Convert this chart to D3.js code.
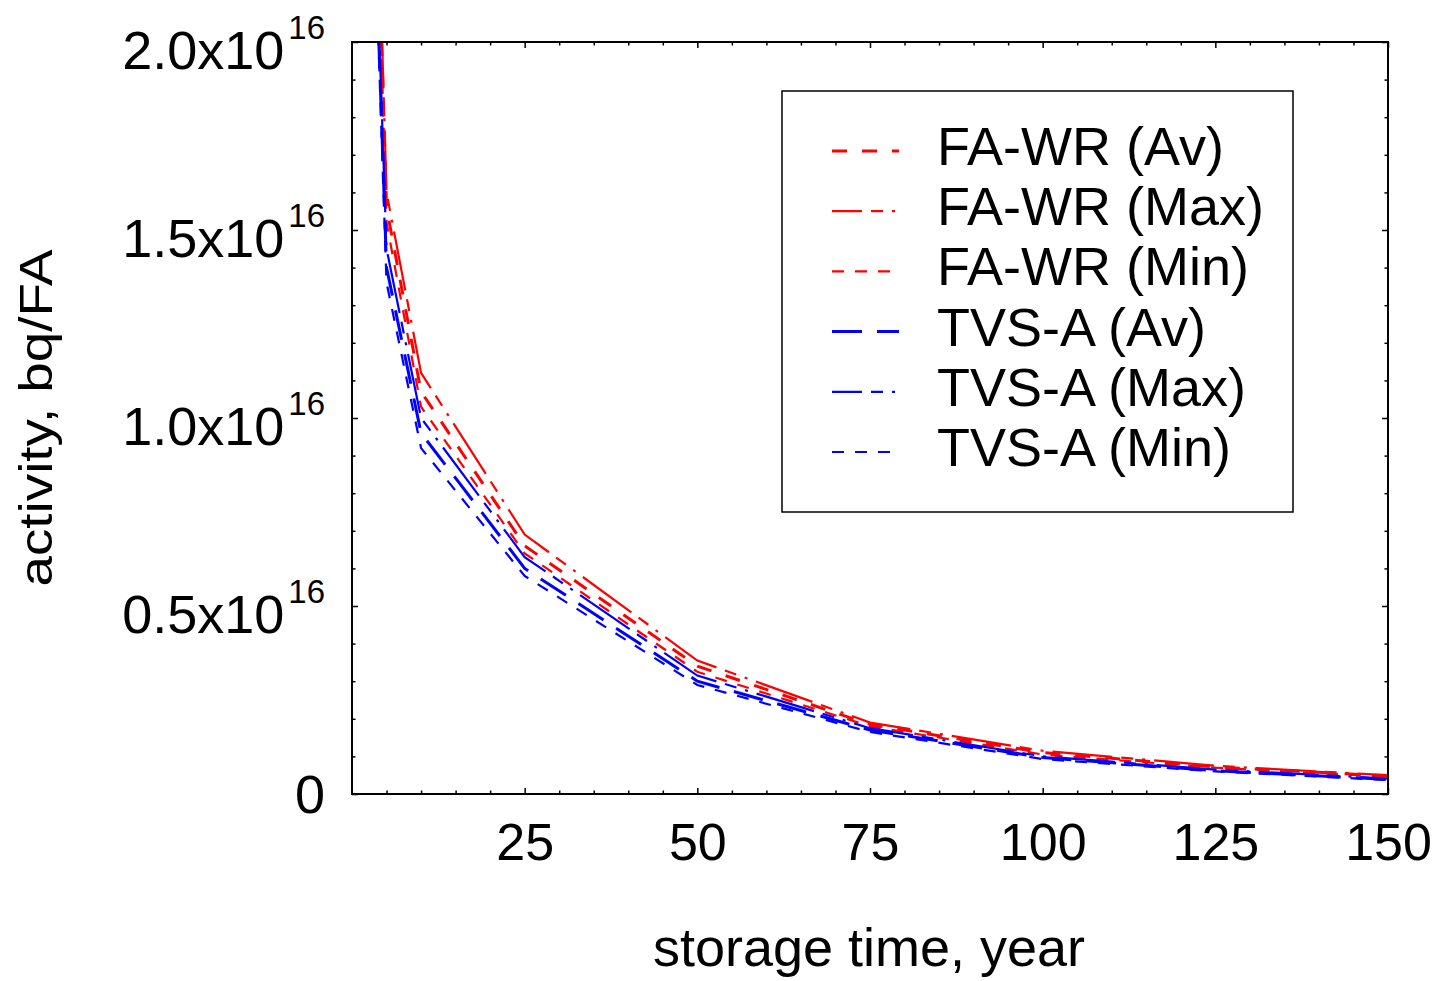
<!DOCTYPE html>
<html>
<head>
<meta charset="utf-8">
<script src="https://cdn.jsdelivr.net/npm/d3@7"></script>
<style>
  body { margin: 0; background: #fff; }
  text { font-family: "Liberation Sans", Arial, sans-serif; fill: #000; }
</style>
</head>
<body>
<div id="chart"></div>
<script>
// data (activity in Bq per fuel assembly)
const years = [3, 5, 10, 25, 50, 75, 100, 125, 150];
const fawrAv  = [2.80e16, 1.56e16, 1.07e16, 0.66e16, 0.340e16, 0.185e16, 0.110e16, 0.072e16, 0.048e16];
const fawrMax = [2.85e16, 1.60e16, 1.12e16, 0.69e16, 0.355e16, 0.190e16, 0.115e16, 0.075e16, 0.050e16];
const fawrMin = [2.75e16, 1.52e16, 1.03e16, 0.64e16, 0.325e16, 0.180e16, 0.105e16, 0.070e16, 0.046e16];
const tvsAv   = [2.48e16, 1.40e16, 0.96e16, 0.60e16, 0.300e16, 0.170e16, 0.097e16, 0.062e16, 0.039e16];
const tvsMax  = [2.52e16, 1.45e16, 1.00e16, 0.63e16, 0.315e16, 0.175e16, 0.100e16, 0.065e16, 0.041e16];
const tvsMin  = [2.45e16, 1.36e16, 0.92e16, 0.58e16, 0.290e16, 0.165e16, 0.093e16, 0.060e16, 0.037e16];
const seriesNames = ["FA-WR (Av)", "FA-WR (Max)", "FA-WR (Min)", "TVS-A (Av)", "TVS-A (Max)", "TVS-A (Min)"];

const xTicks = [25, 50, 75, 100, 125, 150];
const yTicks = [0, 0.5e16, 1.0e16, 1.5e16, 2.0e16];
const yTickLabels = ["0", "0.5x10", "1.0x10", "1.5x10", "2.0x10"];

const FRAME_WIDTH = 1445;
const FRAME_HEIGHT = 981;
const MARGINS = {left: 352, right: 57, top: 42, bottom: 187};
const VIS_WIDTH = FRAME_WIDTH - MARGINS.left - MARGINS.right;
const VIS_HEIGHT = FRAME_HEIGHT - MARGINS.top - MARGINS.bottom;

const styles = [
  {color: "#ff0000", width: 3, dash: "15,15", off: 0},
  {color: "#ff0000", width: 2.2, dash: "60,9,12,9,3,9", off: 30},
  {color: "#ff0000", width: 2.2, dash: "12,11", off: 0},
  {color: "#0000ff", width: 3, dash: "30,15", off: 0},
  {color: "#0000ff", width: 2.2, dash: "60,9,12,9,3,9", off: 30},
  {color: "#0000ff", width: 2.2, dash: "12,11", off: 0}
];
const allSeries = [fawrAv, fawrMax, fawrMin, tvsAv, tvsMax, tvsMin];

const svg = d3.select("#chart")
  .append("svg")
  .attr("width", FRAME_WIDTH)
  .attr("height", FRAME_HEIGHT);

const X_SCALE = d3.scaleLinear().domain([0, 150]).range([0, VIS_WIDTH]);
const Y_SCALE = d3.scaleLinear().domain([0, 2.0e16]).range([VIS_HEIGHT, 0]);

const plot = svg.append("g")
  .attr("transform", "translate(" + MARGINS.left + "," + MARGINS.top + ")");

plot.append("clipPath").attr("id", "clip")
  .append("rect").attr("width", VIS_WIDTH).attr("height", VIS_HEIGHT);

// lines
const line = d3.line()
  .x((d, i) => X_SCALE(years[i]))
  .y(d => Y_SCALE(d));

plot.append("g").attr("clip-path", "url(#clip)")
  .selectAll("path")
  .data(allSeries)
  .enter()
  .append("path")
    .attr("d", d => line(d))
    .attr("fill", "none")
    .attr("stroke", (d, i) => styles[i].color)
    .attr("stroke-width", (d, i) => styles[i].width)
    .attr("stroke-dasharray", (d, i) => styles[i].dash);

// axes: ticks point inward on all four sides
const minorX = d3.range(5, 150, 5).filter(v => v % 25 !== 0);
const minorY = d3.range(1, 20).filter(v => v % 5 !== 0).map(v => v * 0.1e16);

function styleAxis(g) {
  g.select(".domain").remove();
  g.selectAll(".tick line").attr("stroke", "#000").attr("stroke-width", 1.5);
}

plot.append("g")
  .attr("transform", "translate(0," + VIS_HEIGHT + ")")
  .call(d3.axisBottom(X_SCALE).tickValues(xTicks).tickSize(-6).tickPadding(29))
  .call(styleAxis)
  .call(g => g.selectAll("text").attr("font-size", 52)
    .attr("font-family", "'Liberation Sans', Arial, sans-serif"));

plot.append("g")
  .attr("transform", "translate(0," + VIS_HEIGHT + ")")
  .call(d3.axisBottom(X_SCALE).tickValues(minorX).tickSize(-3.5).tickFormat(""))
  .call(styleAxis);

plot.append("g")
  .call(d3.axisTop(X_SCALE).tickValues(xTicks).tickSize(-6).tickFormat(""))
  .call(styleAxis);
plot.append("g")
  .call(d3.axisTop(X_SCALE).tickValues(minorX).tickSize(-3.5).tickFormat(""))
  .call(styleAxis);

plot.append("g")
  .call(d3.axisLeft(Y_SCALE).tickValues(yTicks).tickSize(-6).tickPadding(27)
    .tickFormat((d, i) => yTickLabels[i]))
  .call(styleAxis)
  .call(g => g.selectAll("text")
    .attr("font-size", 54)
    .attr("font-family", "'Liberation Sans', Arial, sans-serif")
    .each(function(d, i) {
      const t = d3.select(this);
      if (d === 0) {
        t.attr("dy", "0.35em");
      } else {
        t.attr("dy", 26);
        t.append("tspan").attr("dx", 4).attr("dy", -30).attr("font-size", 33).text("16");
      }
    }));
plot.append("g")
  .call(d3.axisLeft(Y_SCALE).tickValues(minorY).tickSize(-3.5).tickFormat(""))
  .call(styleAxis);

plot.append("g")
  .attr("transform", "translate(" + VIS_WIDTH + ",0)")
  .call(d3.axisRight(Y_SCALE).tickValues(yTicks).tickSize(-6).tickFormat(""))
  .call(styleAxis);
plot.append("g")
  .attr("transform", "translate(" + VIS_WIDTH + ",0)")
  .call(d3.axisRight(Y_SCALE).tickValues(minorY).tickSize(-3.5).tickFormat(""))
  .call(styleAxis);

// frame
plot.append("rect")
  .attr("width", VIS_WIDTH)
  .attr("height", VIS_HEIGHT)
  .attr("fill", "none")
  .attr("stroke", "#000")
  .attr("stroke-width", 2);

// axis titles
svg.append("text")
  .attr("x", 869)
  .attr("y", 966)
  .attr("text-anchor", "middle")
  .attr("font-size", 54)
  .text("storage time, year");

svg.append("text")
  .attr("transform", "translate(52,418) rotate(-90)")
  .attr("text-anchor", "middle")
  .attr("font-size", 46)
  .attr("textLength", 337)
  .attr("lengthAdjust", "spacingAndGlyphs")
  .text("activity, bq/FA");

// legend
const legend = svg.append("g");
legend.append("rect")
  .attr("x", 782).attr("y", 91)
  .attr("width", 511).attr("height", 421)
  .attr("fill", "#fff")
  .attr("stroke", "#000")
  .attr("stroke-width", 1.5);

const rows = legend.selectAll(".row")
  .data(seriesNames)
  .enter()
  .append("g")
    .attr("class", "row")
    .attr("transform", (d, i) => "translate(0," + (151 + i * 60.2) + ")");

rows.append("line")
  .attr("x1", 832).attr("x2", 899)
  .attr("stroke", (d, i) => styles[i].color)
  .attr("stroke-width", (d, i) => styles[i].width)
  .attr("stroke-dasharray", (d, i) => styles[i].dash)
  .attr("stroke-dashoffset", (d, i) => styles[i].off);

rows.append("text")
  .attr("x", 937)
  .attr("y", 14)
  .attr("font-size", 54)
  .text(d => d);
</script>
</body>
</html>
